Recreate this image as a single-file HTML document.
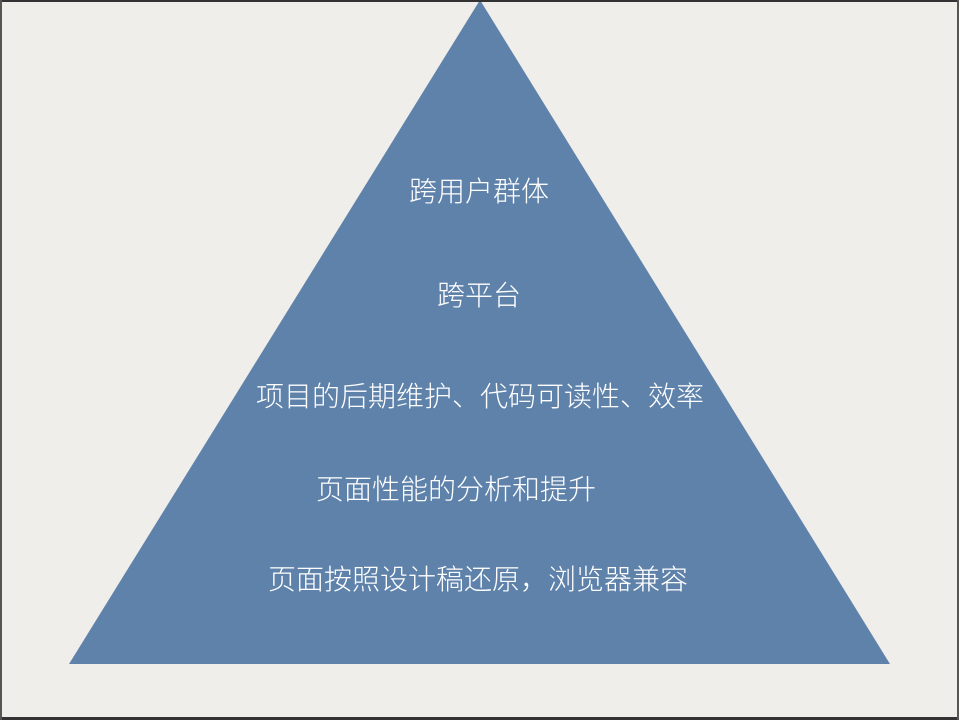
<!DOCTYPE html>
<html><head><meta charset="utf-8"><style>
html,body{margin:0;padding:0}
body{width:959px;height:720px;background:#f0eeea;position:relative;overflow:hidden;font-family:"Liberation Sans","Noto Sans CJK SC",sans-serif}
.t{position:absolute;color:#fff;font-size:28px;font-weight:300;white-space:nowrap;line-height:1}
</style></head><body>
<svg width="959" height="720" style="position:absolute;left:0;top:0">
<rect x="0" y="0" width="959" height="720" fill="#f0eeea"/>
<polygon points="480,0 69,664 890,664" fill="#5f82ab"/>
<rect x="0" y="0" width="959" height="2" fill="#333"/>
<rect x="0" y="717" width="959" height="3" fill="#333"/>
<rect x="0" y="0" width="2" height="720" fill="#555"/>
<rect x="957" y="0" width="2" height="720" fill="#555"/>
</svg>
<div class="t" style="left:409px;top:178px">跨用户群体</div>
<div class="t" style="left:437px;top:282px">跨平台</div>
<div class="t" style="left:256px;top:383px">项目的后期维护、代码可读性、效率</div>
<div class="t" style="left:316px;top:476px">页面性能的分析和提升</div>
<div class="t" style="left:268px;top:566px">页面按照设计稿还原，浏览器兼容</div>
</body></html>
